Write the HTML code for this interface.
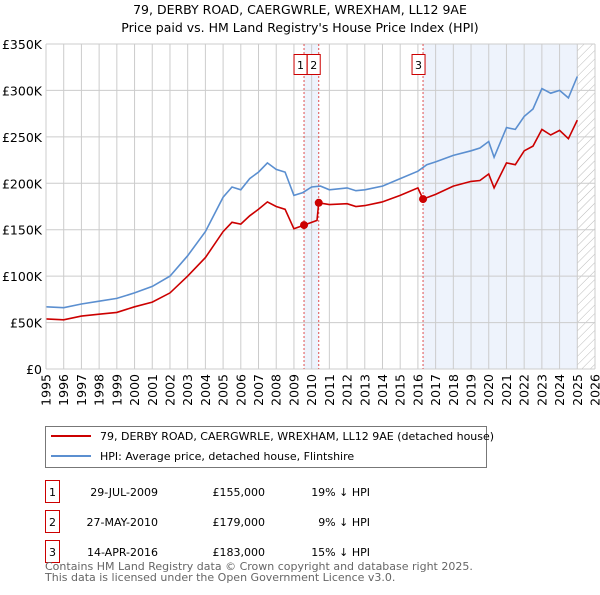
<!DOCTYPE html>
<html><head><meta charset="utf-8"><style>
body{margin:0;background:#fff;font-family:"Liberation Sans","DejaVu Sans",sans-serif;}
svg text{font-family:"DejaVu Sans","Liberation Sans",sans-serif;}
</style></head><body>
<svg width="600" height="590" xmlns="http://www.w3.org/2000/svg" id="chart">
<defs><pattern id="hatch" width="6" height="6" patternUnits="userSpaceOnUse" patternTransform="rotate(45)"><line x1="0" y1="0" x2="0" y2="6" stroke="#bbb" stroke-width="1"/></pattern></defs>
<text x="300" y="14" text-anchor="middle" font-size="12.5">79, DERBY ROAD, CAERGWRLE, WREXHAM, LL12 9AE</text>
<text x="300" y="32" text-anchor="middle" font-size="12.5">Price paid vs. HM Land Registry's House Price Index (HPI)</text>
<g id="plot"></g>
<g id="legend">
<rect x="45.5" y="426.5" width="441" height="41" fill="#fff" stroke="#777"/>
<line x1="51" y1="436" x2="91" y2="436" stroke="#cc0000" stroke-width="2"/>
<text x="100" y="440" font-size="11">79, DERBY ROAD, CAERGWRLE, WREXHAM, LL12 9AE (detached house)</text>
<line x1="51" y1="456" x2="91" y2="456" stroke="#5b8fd0" stroke-width="2"/>
<text x="100" y="460" font-size="11">HPI: Average price, detached house, Flintshire</text>
</g>
<g id="table" font-size="11"></g>
<text x="45" y="570" font-size="11" fill="#666">Contains HM Land Registry data © Crown copyright and database right 2025.</text>
<text x="45" y="581" font-size="11" fill="#666">This data is licensed under the Open Government Licence v3.0.</text>
</svg>
<script>
const hpiYears=[1995,1996,1997,1998,1999,2000,2001,2002,2003,2004,2005,2005.5,2006,2006.5,2007,2007.5,2008,2008.5,2009,2009.5,2010,2010.5,2011,2012,2012.5,2013,2014,2015,2016,2016.5,2017,2018,2019,2019.5,2020,2020.3,2021,2021.5,2022,2022.5,2023,2023.5,2024,2024.5,2025];
const hpiValues=[67,66,70,73,76,82,89,100,122,148,185,196,193,205,212,222,215,212,187,190,196,197,193,195,192,193,197,205,213,220,223,230,235,238,245,228,260,258,272,280,302,297,300,292,315];
const priceYears=[1995,1996,1997,1998,1999,2000,2001,2002,2003,2004,2005,2005.5,2006,2006.5,2007,2007.5,2008,2008.5,2009,2009.57,2010.3,2010.4,2011,2012,2012.5,2013,2014,2015,2016,2016.29,2017,2018,2019,2019.5,2020,2020.3,2021,2021.5,2022,2022.5,2023,2023.5,2024,2024.5,2025];
const priceValues=[54,53,57,59,61,67,72,82,100,120,148,158,156,165,172,180,175,172,151,155,160,179,177,178,175,176,180,187,195,183,188,197,202,203,210,195,222,220,235,240,258,252,257,248,268];
const saleDates=[2009.57,2010.4,2016.29];
const salePrices=[155,179,183];
const saleLabels=["1","2","3"];
const saleDateText=["29-JUL-2009","27-MAY-2010","14-APR-2016"];
const salePriceText=["£155,000","£179,000","£183,000"];
const saleDiffText=["19% ↓ HPI","9% ↓ HPI","15% ↓ HPI"];
const yTicks=[0,50,100,150,200,250,300,350];
const yTickLabels=["£0","£50K","£100K","£150K","£200K","£250K","£300K","£350K"];
const xTicks=[1995,1996,1997,1998,1999,2000,2001,2002,2003,2004,2005,2006,2007,2008,2009,2010,2011,2012,2013,2014,2015,2016,2017,2018,2019,2020,2021,2022,2023,2024,2025,2026];

const NS="http://www.w3.org/2000/svg";
const L=46,R=595,T=44,B=369;
const x=v=>L+(v-1995)/(2026-1995)*(R-L);
const y=v=>B-v/350*(B-T);
const g=document.getElementById('plot');
function mk(tag,attrs,parent){const e=document.createElementNS(NS,tag);for(const k in attrs)e.setAttribute(k,attrs[k]);(parent||g).appendChild(e);return e;}
let e=mk('rect',{x:x(saleDates[0]),y:T,width:x(saleDates[1])-x(saleDates[0]),height:B-T,fill:'#eef3fc'});


e=mk('rect',{x:x(saleDates[2]),y:T,width:x(2025)-x(saleDates[2]),height:B-T,fill:'#eef3fc'});


e=mk('rect',{x:x(2025),y:T,width:R-x(2025),height:B-T,fill:'url(#hatch)'});


yTicks.forEach((v,i)=>{
 e=mk('line',{x1:L,x2:R,y1:y(v),y2:y(v),stroke:'#ccc'});
 
 
 e=mk('text',{x:L-4,y:y(v)+5,'text-anchor':'end','font-size':'12.5'});e.textContent=yTickLabels[i];
 
 
});
xTicks.forEach(v=>{
 e=mk('line',{x1:x(v),x2:x(v),y1:T,y2:B,stroke:'#ccc'});
 
 
 const tx=x(v)+4.5, ty=374;
 e=mk('text',{x:tx,y:ty,'text-anchor':'end','font-size':'12.5',transform:'rotate(-90 '+tx+' '+ty+')'});e.textContent=v;
 
 
});
saleDates.forEach((d,i)=>{
 e=mk('line',{x1:x(d),x2:x(d),y1:T,y2:B,stroke:'#e05050','stroke-dasharray':'2,2'});
 
 
});
function path(xs,vs,col,name){
 e=mk('path',{d:xs.map((v,i)=>(i?'L':'M')+x(v).toFixed(1)+','+y(vs[i]).toFixed(1)).join(''),fill:'none',stroke:col,'stroke-width':1.6});
 
 
}
path(hpiYears,hpiValues,'#5b8fd0','hpi-line');
path(priceYears,priceValues,'#cc0000','price-line');
saleDates.forEach((d,i)=>{
 e=mk('circle',{cx:x(d),cy:y(salePrices[i]),r:4,fill:'#cc0000'});
 
 
});
const bx=[x(saleDates[0])-10,x(saleDates[1])-12+0.5,x(saleDates[2])-11];
saleLabels.forEach((s,i)=>{
 e=mk('rect',{x:bx[i],y:54.5,width:13,height:20,fill:'#fff',stroke:'#cc0000'});
 
 
 e=mk('text',{x:bx[i]+6.5,y:69,'text-anchor':'middle','font-size':'11'});e.textContent=s;
 
 
});
mk('line',{x1:L,x2:L,y1:T,y2:B,stroke:'#ccc'});
const tb=document.getElementById('table');
saleLabels.forEach((s,i)=>{
 const cy=494+i*30;
 e=mk('rect',{x:45.5,y:cy-13.5,width:14,height:22,fill:'#fff',stroke:'#cc0000'},tb);
 
 
 const cells=[[s,52.5,'middle'],[saleDateText[i],158,'end'],[salePriceText[i],265,'end'],[saleDiffText[i],370,'end']];
 cells.forEach(c=>{e=mk('text',{x:c[1],y:cy+2,'text-anchor':c[2]},tb);e.textContent=c[0];
  
  });
});
</script>
</body></html>
